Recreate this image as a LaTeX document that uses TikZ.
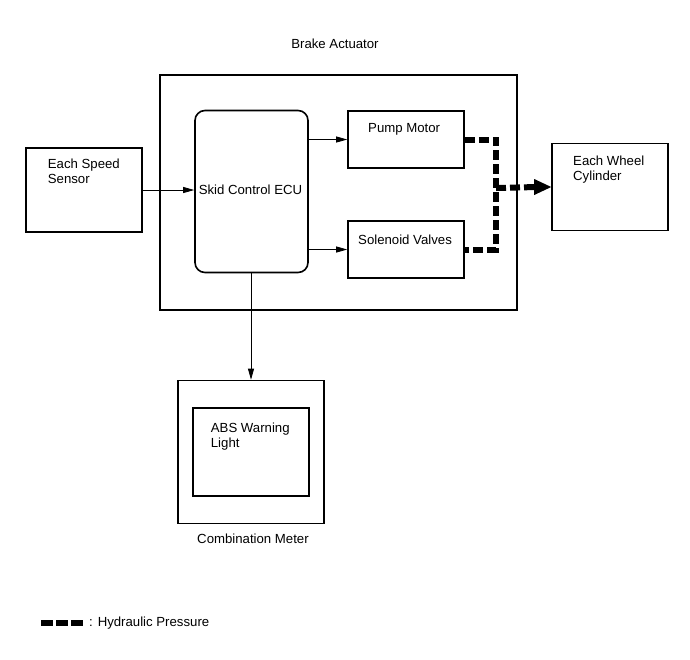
\documentclass[tikz,border=0pt]{standalone}
\usepackage{fontspec}
\setmainfont{Liberation Sans}
\usetikzlibrary{arrows.meta}
\begin{document}
\begin{tikzpicture}[x=1pt,y=-1pt,
  box/.style={draw,line width=1.6pt,inner sep=0pt,minimum width=#1},
  lbl/.style={inner sep=0pt,font=\fontsize{13.2}{15}\selectfont,align=left},
  sig/.style={line width=0.8pt,-{Triangle[length=11pt,width=6pt]}},
  hyd/.style={line width=6pt,dash pattern=on 10pt off 4pt}]
\useasboundingbox (0,0) rectangle (690,659);
% boxes
\node[box=357pt,minimum height=235pt] (act) at (338.5,192.5) {};
\node[box=113pt,minimum height=162pt,rounded corners=10pt] (ecu) at (251.5,191.5) {};
\node[box=116pt,minimum height=57pt] (pump) at (406,139.5) {};
\node[box=116pt,minimum height=57pt] (sol) at (406,249.5) {};
\node[box=116pt,minimum height=84pt] (sens) at (84,190) {};
\node[box=116pt,minimum height=87pt] (wheel) at (610,187) {};
\node[box=146pt,minimum height=143pt] (meter) at (251,452) {};
\node[box=116pt,minimum height=88pt] (abs) at (251,452) {};
% labels
\node[lbl,anchor=base] (tact) at (335,48) {Brake Actuator};
\node[lbl,anchor=base] (tecu) at (250.5,194.3) {Skid Control ECU};
\node[lbl,anchor=base west] (tpump) at (368,132) {Pump Motor};
\node[lbl,anchor=base west] (tsol) at (358,244) {Solenoid Valves};
\node[lbl,anchor=north west] (tsens) at (47.7,158.3) {Each Speed\\Sensor};
\node[lbl,anchor=north west] (twheel) at (573,156) {Each Wheel\\Cylinder};
\node[lbl,anchor=north west] (tabs) at (210.7,422.3) {ABS Warning\\Light};
\node[lbl,anchor=base] (tmeter) at (253,543) {Combination Meter};
% signal arrows
\draw[sig] (sens.east) -- (ecu.west |- sens.east);
\draw[sig] (ecu.east |- pump.west) -- (pump.west);
\draw[sig] (ecu.east |- sol.west) -- (sol.west);
\draw[sig] (meter.north |- ecu.south) -- (meter.north);
% hydraulic
\coordinate (j) at (496,188);
\draw[hyd] (pump.east) -- (j |- pump.east) -- (j |- sol.east) -- (sol.east);
\draw[hyd] (j) -- ([xshift=-14pt]wheel.west);
\draw[fill,draw=none] (wheel.west) -- ++(-17,-8) -- ++(0,16) -- cycle;
% legend
\coordinate (l1) at (41,622.7);
\coordinate (l2) at (83,622.7);
\draw[line width=6pt,dash pattern=on 12.3pt off 2.7pt] (l1) -- (l2);
\node[lbl,anchor=base west] (tleg) at (89,626.7) {: Hydraulic Pressure};
\end{tikzpicture}
\end{document}
